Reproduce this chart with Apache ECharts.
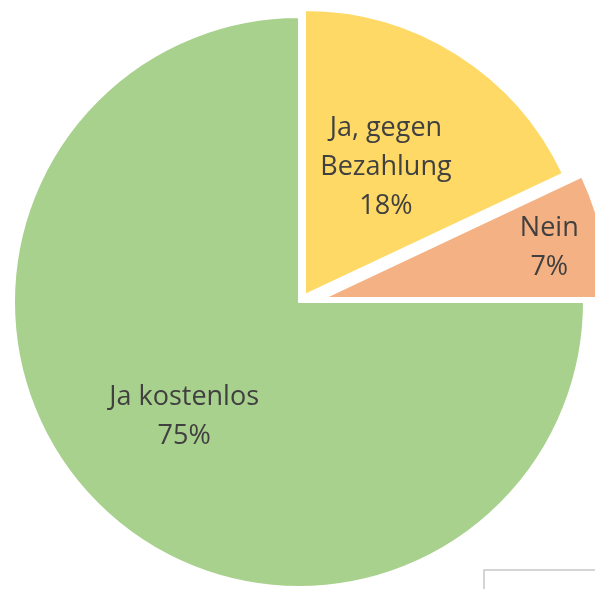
<!DOCTYPE html>
<html>
<head>
<meta charset="utf-8">
<script src="https://cdn.jsdelivr.net/npm/echarts@6/dist/echarts.min.js"></script>
<style>
  html, body { margin: 0; padding: 0; background: #fff; }
  #chart { width: 595px; height: 589px; }
</style>
</head>
<body>
<div id="chart"></div>
<script>
var categories = ['Ja, gegen\nBezahlung', 'Nein', 'Ja kostenlos']
var values = [18, 7, 75]
var colors = ['#FFD966', '#F4B183', '#A9D18E']

// explodierte Stücke: jedes Stück bekommt seine eigene Mitte
var centers = [[305, 295], [324, 298], [299, 302]]
var labelFrac = [0.53, 0.81, 0.57]
var R = 285

var total = values.reduce(function (a, b) { return a + b }, 0)

function midAngle (i) {
  var start = 0
  for (var k = 0; k < i; k++) start += values[k]
  return (start + values[i] / 2) / total * 2 * Math.PI
}

function makeSeries (i) {
  return {
    type: 'pie',
    center: centers[i],
    radius: [0, R],
    startAngle: 90,
    clockwise: true,
    silent: true,
    avoidLabelOverlap: false,
    emphasis: { disabled: true },
    labelLine: { show: false },
    labelLayout: function (p) {
      var a = midAngle(i)
      return {
        x: centers[i][0] + labelFrac[i] * R * Math.sin(a),
        y: centers[i][1] - labelFrac[i] * R * Math.cos(a),
        align: 'center',
        verticalAlign: 'middle'
      }
    },
    data: categories.map(function (name, k) {
      var mine = k === i
      return {
        name: name,
        value: values[k],
        itemStyle: {
          color: mine ? colors[k] : 'rgba(0,0,0,0)',
          borderColor: mine ? '#fff' : 'rgba(0,0,0,0)',
          borderWidth: mine ? 2 : 0
        },
        label: {
          show: mine,
          position: 'inside',
          formatter: '{b}\n{d}%',
          fontFamily: 'Open Sans',
          fontSize: 27,
          lineHeight: 39,
          color: '#404040',
          align: 'center'
        }
      }
    })
  }
}

var chart = echarts.init(document.getElementById('chart'), null, { renderer: 'canvas' })
chart.setOption({
  animation: false,
  series: [makeSeries(2), makeSeries(0), makeSeries(1)],
  graphic: [{
    type: 'rect',
    shape: { x: 484, y: 570, width: 130, height: 40 },
    style: { fill: 'none', stroke: '#C8C8C8', lineWidth: 1.5 },
    silent: true
  }]
})
</script>
</body>
</html>
